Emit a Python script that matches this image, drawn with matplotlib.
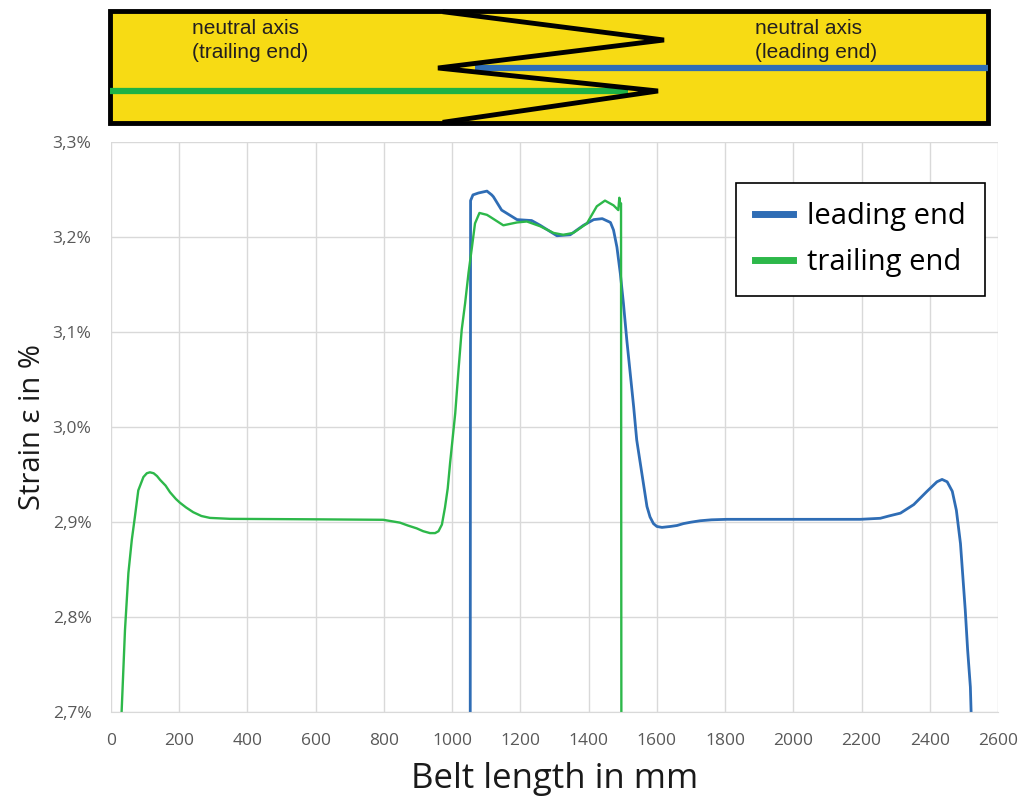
import matplotlib
matplotlib.use("Agg")
import matplotlib.pyplot as plt
from matplotlib.patches import Rectangle
from matplotlib.lines import Line2D

# ---------------- data ----------------
leading_x = [1053, 1054, 1061, 1077, 1102, 1116, 1121, 1145, 1190, 1233, 1258, 1307, 1346,
             1385, 1415, 1440, 1464, 1473, 1483, 1493, 1502, 1512, 1522, 1532, 1541, 1556,
             1571, 1580, 1590, 1600, 1615, 1640, 1659, 1678, 1700, 1727, 1760, 1805, 2001,
             2196, 2255, 2280, 2314, 2353, 2392, 2421, 2436, 2451, 2466, 2478, 2490, 2497,
             2504, 2511, 2519, 2522]
leading_y = [2.69, 3.238, 3.244, 3.246, 3.248, 3.244, 3.242, 3.228, 3.218, 3.217, 3.212, 3.201, 3.202,
             3.212, 3.218, 3.219, 3.215, 3.207, 3.189, 3.161, 3.130, 3.091, 3.056, 3.021, 2.986, 2.951,
             2.916, 2.905, 2.898, 2.895, 2.894, 2.895, 2.896, 2.898, 2.8995, 2.901, 2.902, 2.9025, 2.9025,
             2.9025, 2.9036, 2.906, 2.909, 2.918, 2.932, 2.942, 2.9445, 2.942, 2.932, 2.912, 2.877, 2.842,
             2.807, 2.765, 2.726, 2.69]

trailing_x = [30, 41, 51, 61, 70, 80, 95, 105, 114, 125, 135, 144, 160, 173, 190, 202, 220,
              241, 265, 290, 320, 349, 600, 798, 847, 870, 896, 915, 935, 950, 960, 970, 979,
              987, 994, 1009, 1018, 1028, 1038, 1048, 1058, 1067, 1080, 1102, 1111, 1150, 1190,
              1219, 1258, 1297, 1326, 1355, 1395, 1424, 1448, 1473, 1487, 1490, 1493, 1495, 1496]
trailing_y = [2.69, 2.786, 2.846, 2.881, 2.905, 2.933, 2.947, 2.951, 2.952, 2.951, 2.948, 2.944, 2.938,
              2.931, 2.924, 2.920, 2.915, 2.910, 2.906, 2.904, 2.9035, 2.903, 2.9025, 2.902, 2.899, 2.896,
              2.893, 2.890, 2.888, 2.888, 2.890, 2.897, 2.915, 2.935, 2.962, 3.014, 3.057, 3.102, 3.130,
              3.162, 3.189, 3.214, 3.225, 3.223, 3.221, 3.212, 3.215, 3.216, 3.211, 3.204, 3.202, 3.204,
              3.214, 3.232, 3.238, 3.233, 3.228, 3.241, 3.233, 3.235, 2.69]

x_ticks = list(range(0, 2601, 200))
y_ticks = [2.7, 2.8, 2.9, 3.0, 3.1, 3.2, 3.3]
y_tick_labels = ["2,7%", "2,8%", "2,9%", "3,0%", "3,1%", "3,2%", "3,3%"]

BLUE = "#2F6DB5"
GREEN = "#2DB84A"

W, H = 1019, 796
fig = plt.figure(figsize=(W / 100, H / 100), dpi=100)

tick_font = ["Open Sans", "DejaVu Sans"]
label_font = ["Open Sans", "DejaVu Sans"]

# ---------------- main chart ----------------
ax = fig.add_axes([111 / W, 1 - 711.7 / H, 887 / W, 570 / H])
ax.plot(leading_x, leading_y, color=BLUE, lw=2.0, label="leading end", solid_joinstyle="round")
ax.plot(trailing_x, trailing_y, color=GREEN, lw=1.7, label="trailing end", solid_joinstyle="round")
ax.set_xlim(0, 2600)
ax.set_ylim(2.7, 3.3)
ax.set_xticks(x_ticks)
ax.set_xticklabels([str(t) for t in x_ticks], fontfamily=tick_font, fontsize=12.5, color="#595959")
ax.set_yticks(y_ticks)
ax.set_yticklabels(y_tick_labels, fontfamily=tick_font, fontsize=12.5, color="#595959")
ax.tick_params(axis="x", length=0, pad=15)
ax.tick_params(axis="y", length=0, pad=14)
ax.grid(True, color="#D9D9D9", lw=1.0)
ax.set_axisbelow(True)
for s in ["top", "right", "left"]:
    ax.spines[s].set_visible(False)
ax.spines["bottom"].set_color("#D9D9D9")
ax.set_xlabel("Belt length in mm", fontfamily=label_font, fontsize=25, color="#1a1a1a", labelpad=10)
ax.set_ylabel("Strain ε in %", fontfamily=label_font, fontsize=21, color="#1a1a1a", labelpad=4)

handles = [Line2D([0], [0], color=BLUE, lw=5), Line2D([0], [0], color=GREEN, lw=5)]
leg = ax.legend(handles, ["leading end", "trailing end"], loc="upper right",
                bbox_to_anchor=((985 - 111) / 887, (711.7 - 183) / 570),
                prop={"family": label_font, "size": 21}, frameon=True, fancybox=False,
                edgecolor="black", framealpha=1, handlelength=1.3, handletextpad=0.5,
                borderpad=0.65, labelspacing=0.6, borderaxespad=0)
leg.get_frame().set_linewidth(1.2)
leg._legend_box.sep = 0
leg.set_frame_on(True)

# ---------------- top diagram (pixel coordinates) ----------------
dax = fig.add_axes([0, 0, 1, 1], zorder=-1)
dax.set_xlim(0, W)
dax.set_ylim(H, 0)
dax.axis("off")
dax.add_patch(Rectangle((110, 11), 878, 112, facecolor="#F7DB14", edgecolor="none"))
dax.plot([475, 988], [67.5, 67.5], color=BLUE, lw=4.5, solid_capstyle="butt")
dax.plot([110, 628], [91, 91], color="#1DB245", lw=4.5, solid_capstyle="butt")
dax.plot([445, 664, 438, 658, 445], [12, 40, 68, 91, 122], color="black", lw=3.5,
         solid_joinstyle="miter")
dax.add_patch(Rectangle((110, 11), 878, 112, facecolor="none", edgecolor="black", lw=3.5))
diag_font = ["Liberation Sans", "DejaVu Sans"]
dax.text(192, 19, "neutral axis\n(trailing end)", fontsize=15, family=diag_font,
         color="#231F20", va="top", ha="left", linespacing=1.3)
dax.text(755, 19, "neutral axis\n(leading end)", fontsize=15, family=diag_font,
         color="#231F20", va="top", ha="left", linespacing=1.3)

fig.savefig("out.png", dpi=100, facecolor="white")
